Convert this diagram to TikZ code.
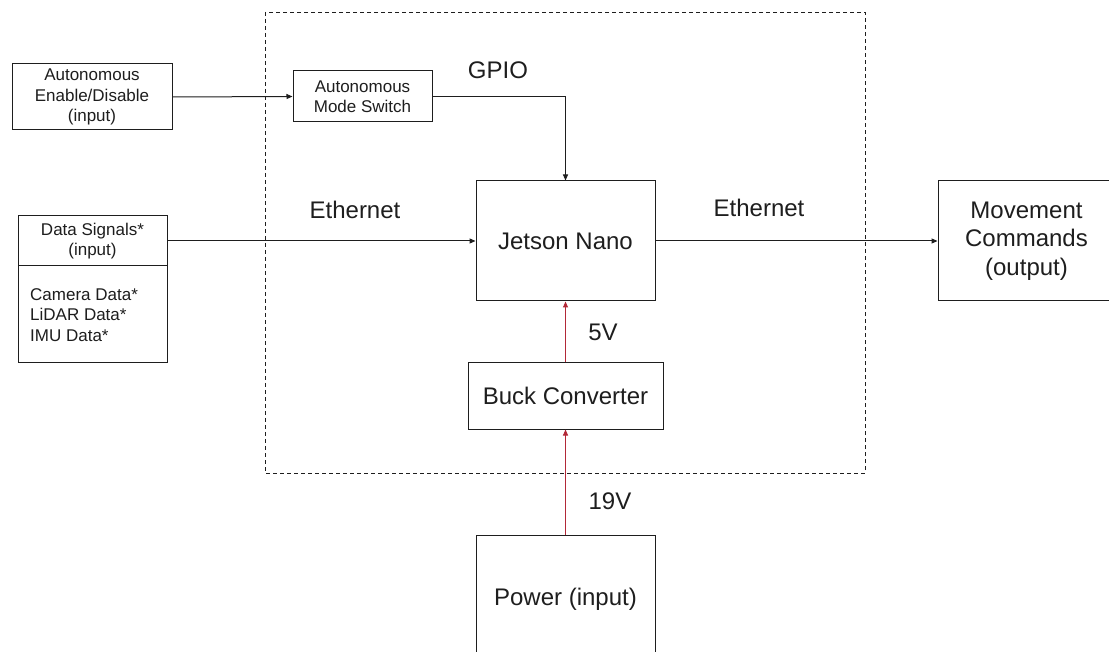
\documentclass[tikz,border=0pt]{standalone}
\usepackage{fontspec}
\setmainfont{Liberation Sans}
\usetikzlibrary{arrows.meta}
\definecolor{pwr}{RGB}{178,40,55}
\definecolor{ink}{RGB}{30,30,30}
\begin{document}
\begin{tikzpicture}[x=1pt,y=-1pt,
  box/.style={draw=ink,line width=1pt,inner sep=0pt,align=center,text=ink},
  small/.style={font=\fontsize{17}{20.5}\selectfont},
  big/.style={font=\fontsize{24}{28.3}\selectfont},
  lbl/.style={text=ink,inner sep=0pt,font=\fontsize{24}{28}\selectfont},
  conn/.style={draw=ink,line width=1pt,-{Triangle[length=6pt,width=5pt]}},
  pconn/.style={draw=pwr,line width=1pt,-{Triangle[length=6pt,width=5pt]}},
  grp/.style={draw=ink,line width=0.9pt,dash pattern=on 4pt off 3pt}]
\clip (0,0) rectangle (1109,652);
\fill[white] (0,0) rectangle (1109,652);
% group boundary
\draw[grp] (265,12) rectangle (865,473);
% nodes
\node[box,small,minimum width=160,minimum height=66] (en) at (92,97) {Autonomous\\Enable/Disable\\(input)};
\node[box,small,minimum width=139,minimum height=51] (sw) at (362.5,96.5) {Autonomous\\Mode Switch};
\node[box,big,minimum width=179,minimum height=120] (jn) at (565.5,241) {Jetson Nano};
\node[box,small,minimum width=149,minimum height=50] (ds) at (92.5,241) {Data Signals*\\(input)};
\node[box,small,minimum width=149,minimum height=97,align=left] (dl) at (92.5,314.5) {};
\node[small,text=ink,align=left,anchor=west,inner sep=0pt] (dt) at (30,315) {Camera Data*\\LiDAR Data*\\IMU Data*};
\node[box,big,minimum width=177,minimum height=120] (mv) at (1026.5,241) {Movement\\Commands\\(output)};
\node[box,big,minimum width=195,minimum height=66] (bk) at (565.5,396) {Buck Converter};
\node[box,big,minimum width=179,minimum height=165] (pw) at (565.5,617.5) {};
\node[text=ink,inner sep=0pt,font=\fontsize{24}{28}\selectfont] (pwt) at (565.5,599) {Power (input)};
% labels
\node[lbl] (gpio) at (498,70) {GPIO};
\node[lbl] (eth1) at (355,210) {Ethernet};
\node[lbl] (eth2) at (759,208) {Ethernet};
\node[lbl] (v5) at (603,332) {5V};
\node[lbl] (v19) at (610,501) {19V};
% connectors
\draw[conn] (en.east) -- (sw.west);
\draw[conn] (sw.east) -| (jn.north);
\draw[conn] (ds.east) -- (jn.west);
\draw[conn] (jn.east) -- (jn.east -| mv.west);
\draw[pconn] (bk.north) -- (jn.south);
\draw[pconn] (pw.north) -- (bk.south);
\end{tikzpicture}
\end{document}
